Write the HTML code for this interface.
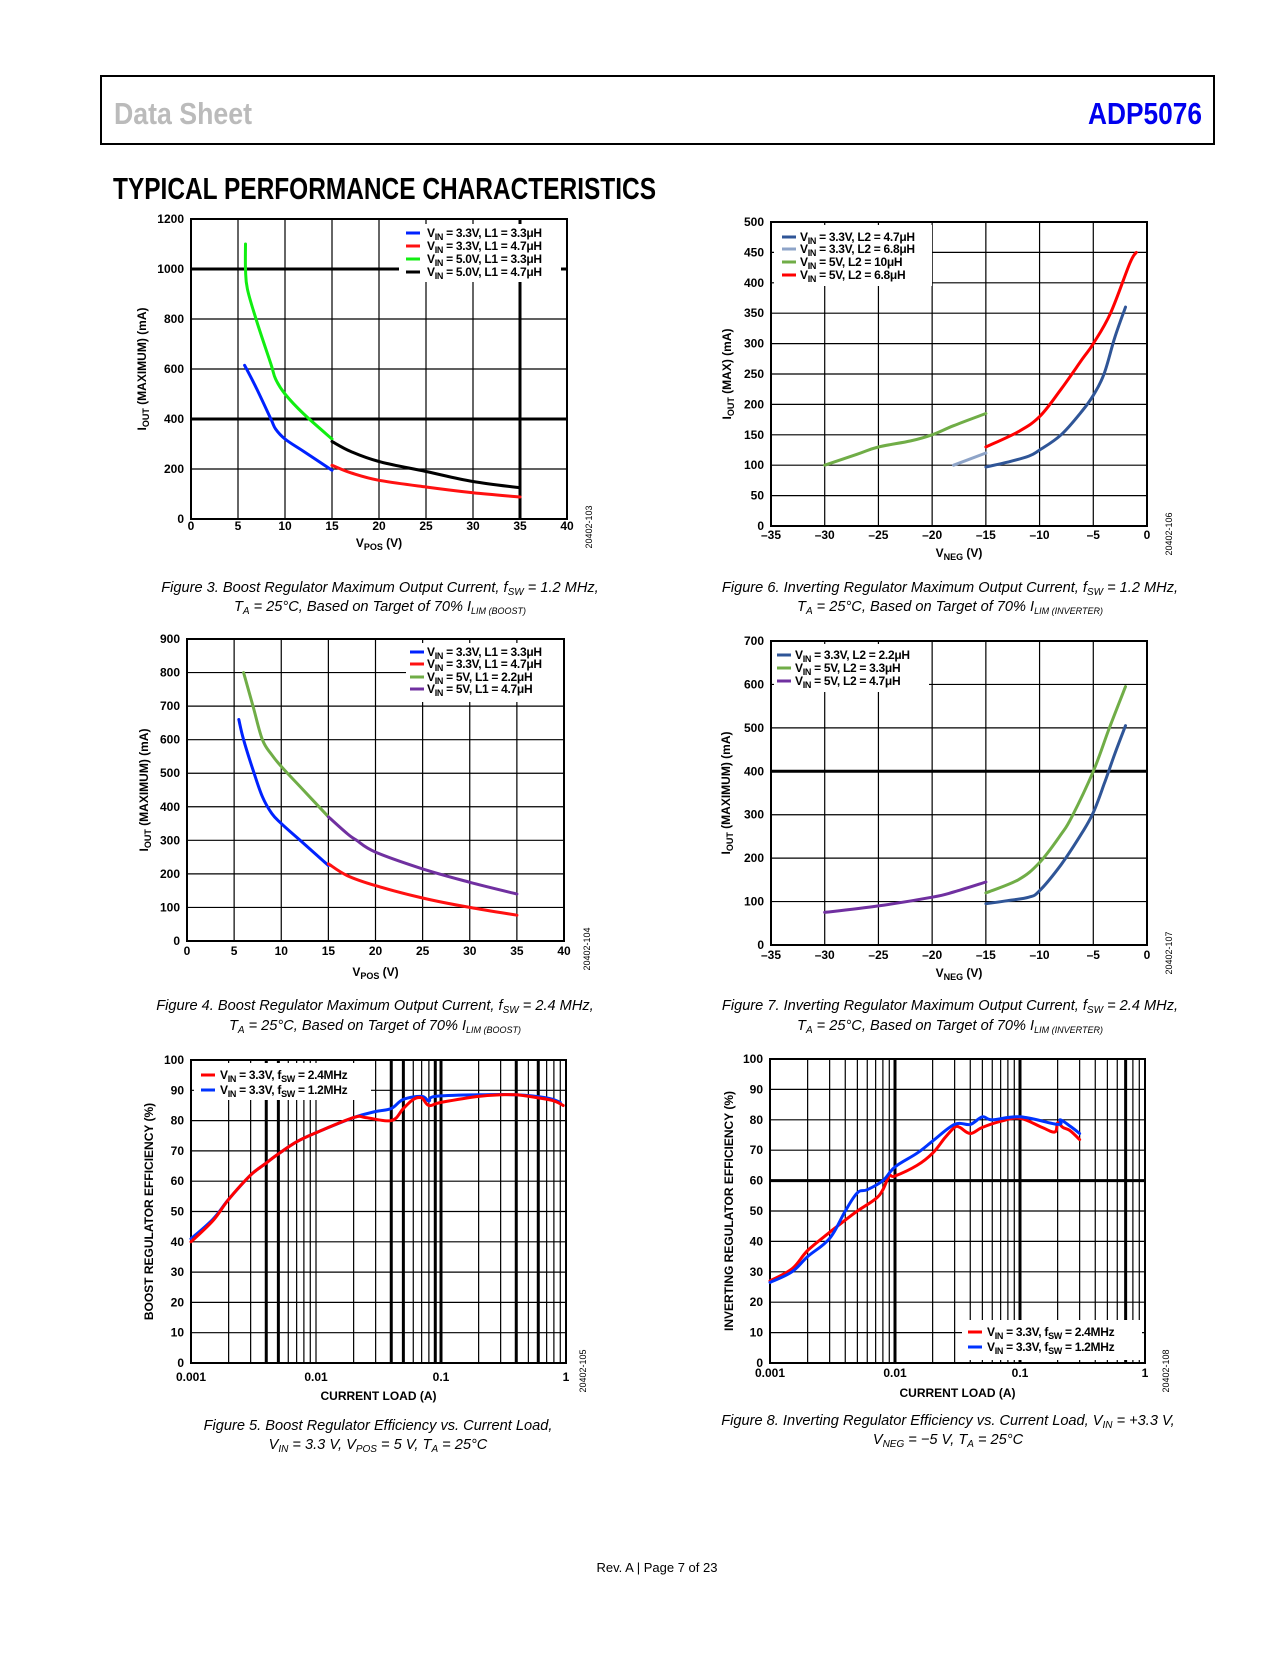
<!DOCTYPE html>
<html><head><meta charset="utf-8"><style>
body{margin:0;background:#fff}
svg text{font-family:"Liberation Sans",Arial,sans-serif}
.tk{font-size:12px;font-weight:bold}
.cap{font-size:14.6px;font-style:italic}
.lg{font-size:12px;font-weight:bold;letter-spacing:-0.3px}
</style></head><body>
<svg id="pg" width="1275" height="1650" viewBox="0 0 1275 1650" xmlns="http://www.w3.org/2000/svg">
<rect x="101" y="76" width="1113" height="68" fill="none" stroke="#000" stroke-width="2"/>
<text x="114" y="124" font-size="31" font-weight="bold" fill="#bbb" textLength="138" lengthAdjust="spacingAndGlyphs">Data Sheet</text>
<text x="1088" y="124" font-size="31" font-weight="bold" fill="#0000ee" textLength="114" lengthAdjust="spacingAndGlyphs">ADP5076</text>
<text x="113" y="199" font-size="31" font-weight="bold" fill="#000" textLength="543" lengthAdjust="spacingAndGlyphs">TYPICAL PERFORMANCE CHARACTERISTICS</text>

<text class="cap" x="380" y="592" text-anchor="middle">Figure 3. Boost Regulator Maximum Output Current, f<tspan font-size="10" dy="3">SW</tspan><tspan dy="-3"> = 1.2 MHz,</tspan></text>
<text class="cap" x="380" y="611" text-anchor="middle">T<tspan font-size="10" dy="3">A</tspan><tspan dy="-3"> = 25°C, Based on Target of 70% I</tspan><tspan font-size="9" dy="3">LIM (BOOST)</tspan></text>
<text class="cap" x="950" y="592" text-anchor="middle">Figure 6. Inverting Regulator Maximum Output Current, f<tspan font-size="10" dy="3">SW</tspan><tspan dy="-3"> = 1.2 MHz,</tspan></text>
<text class="cap" x="950" y="611" text-anchor="middle">T<tspan font-size="10" dy="3">A</tspan><tspan dy="-3"> = 25°C, Based on Target of 70% I</tspan><tspan font-size="9" dy="3">LIM (INVERTER)</tspan></text>
<text class="cap" x="375" y="1010" text-anchor="middle">Figure 4. Boost Regulator Maximum Output Current, f<tspan font-size="10" dy="3">SW</tspan><tspan dy="-3"> = 2.4 MHz,</tspan></text>
<text class="cap" x="375" y="1030" text-anchor="middle">T<tspan font-size="10" dy="3">A</tspan><tspan dy="-3"> = 25°C, Based on Target of 70% I</tspan><tspan font-size="9" dy="3">LIM (BOOST)</tspan></text>
<text class="cap" x="950" y="1010" text-anchor="middle">Figure 7. Inverting Regulator Maximum Output Current, f<tspan font-size="10" dy="3">SW</tspan><tspan dy="-3"> = 2.4 MHz,</tspan></text>
<text class="cap" x="950" y="1030" text-anchor="middle">T<tspan font-size="10" dy="3">A</tspan><tspan dy="-3"> = 25°C, Based on Target of 70% I</tspan><tspan font-size="9" dy="3">LIM (INVERTER)</tspan></text>
<text class="cap" x="378" y="1430" text-anchor="middle">Figure 5. Boost Regulator Efficiency vs. Current Load,</text>
<text class="cap" x="378" y="1449" text-anchor="middle">V<tspan font-size="10" dy="3">IN</tspan><tspan dy="-3"> = 3.3 V, V</tspan><tspan font-size="10" dy="3">POS</tspan><tspan dy="-3"> = 5 V, T</tspan><tspan font-size="10" dy="3">A</tspan><tspan dy="-3"> = 25°C</tspan></text>
<text class="cap" x="948" y="1425" text-anchor="middle">Figure 8. Inverting Regulator Efficiency vs. Current Load, V<tspan font-size="10" dy="3">IN</tspan><tspan dy="-3"> = +3.3 V,</tspan></text>
<text class="cap" x="948" y="1444" text-anchor="middle">V<tspan font-size="10" dy="3">NEG</tspan><tspan dy="-3"> = −5 V, T</tspan><tspan font-size="10" dy="3">A</tspan><tspan dy="-3"> = 25°C</tspan></text>
<text x="657" y="1572" font-size="13" text-anchor="middle">Rev. A | Page 7 of 23</text>
</svg>
<script>
// ---- Chart data ----
const c1BlueX=[5.7,7,8.5,9,10,12,15], c1BlueY=[615,520,400,360,320,270,195];
const c1GreenX=[5.8,5.8,6,7,8.5,9,10,12,15], c1GreenY=[1100,1000,920,790,620,560,500,420,320];
const c1BlackX=[15,17,20,25,30,35], c1BlackY=[310,270,230,190,150,125];
const c1RedX=[15,17,20,25,30,35], c1RedY=[215,185,155,128,105,88];
const c1XTicks=[0,5,10,15,20,25,30,35,40];
const c1YTicks=[0,200,400,600,800,1000,1200];

const c2GreenX=[-30,-27,-25,-22,-20,-18,-15], c2GreenY=[100,118,130,140,150,165,185];
const c2LightX=[-18,-15], c2LightY=[100,120];
const c2BlueX=[-15,-13,-11,-10,-8,-6,-5,-4,-3,-2], c2BlueY=[97,105,115,125,150,190,215,250,310,360];
const c2RedX=[-15,-12,-10,-8,-6,-5,-3.4,-1.6,-1], c2RedY=[130,155,180,225,275,300,350,432,450];
const c2XTicks=[-35,-30,-25,-20,-15,-10,-5,0];
const c2YTicks=[0,50,100,150,200,250,300,350,400,450,500];

const c4BlueX=[5.5,6,7,8,9,10,12,15], c4BlueY=[660,600,510,430,380,350,300,225];
const c4GreenX=[6,7,8,9,10,12,15], c4GreenY=[800,700,600,555,520,460,370];
const c4PurpleX=[15,17,18,20,25,30,35], c4PurpleY=[370,320,300,265,215,175,140];
const c4RedX=[15,17,20,25,30,35], c4RedY=[230,195,165,128,100,77];
const c4XTicks=[0,5,10,15,20,25,30,35,40];
const c4YTicks=[0,100,200,300,400,500,600,700,800,900];

const c5PurpleX=[-30,-25,-20,-18,-15], c5PurpleY=[75,90,110,122,145];
const c5GreenX=[-15,-12,-10,-8,-7,-5,-3.5,-2], c5GreenY=[120,150,190,255,295,400,500,595];
const c5BlueX=[-15,-13,-11,-10,-8,-6,-5,-4,-3,-2], c5BlueY=[95,102,110,125,185,260,305,370,440,505];
const c5XTicks=[-35,-30,-25,-20,-15,-10,-5,0];
const c5YTicks=[0,100,200,300,400,500,600,700];

const c3RedX=[0.001,0.0015,0.002,0.003,0.004,0.005,0.007,0.01,0.02,0.025,0.04,0.05,0.06,0.07,0.08,0.1,0.2,0.3,0.4,0.6,0.8,0.95];
const c3RedY=[40,47,54,62,66,69,73,76,81,81,80,84,87,87.5,85,86,88,88.5,88.5,87.5,86.5,85];
const c3BlueX=[0.001,0.0015,0.002,0.003,0.004,0.005,0.007,0.01,0.02,0.03,0.04,0.05,0.07,0.08,0.09,0.2,0.4,0.7,0.9];
const c3BlueY=[41,47.5,54,62,66,69,73,76,81,83,84,87,88,86.5,88,88.5,88.5,87.5,86];
const c3XTicks=[0.001,0.01,0.1,1], c3XLabels=["0.001","0.01","0.1","1"];
const c3YTicks=[0,10,20,30,40,50,60,70,80,90,100];

const c6RedX=[0.001,0.0015,0.002,0.003,0.004,0.005,0.007,0.008,0.009,0.01,0.015,0.02,0.025,0.03,0.033,0.04,0.05,0.07,0.1,0.15,0.19,0.2,0.22,0.25,0.3];
const c6RedY=[27,31,37,43,47,50,54,57,61.5,61.5,65,69,74,77.5,77.5,75.5,77.5,79.5,80.5,77.5,76,79,77.5,76.5,73.5];
const c6BlueX=[0.001,0.0015,0.002,0.003,0.004,0.005,0.006,0.008,0.01,0.015,0.02,0.03,0.04,0.05,0.06,0.1,0.2,0.21,0.25,0.3];
const c6BlueY=[26.5,30,35,41,50,56,57,60,64.5,69,73,78.5,78.5,81,80,81,78.5,80,78,75.5];
const c6XTicks=[0.001,0.01,0.1,1], c6XLabels=["0.001","0.01","0.1","1"];
const c6YTicks=[0,10,20,30,40,50,60,70,80,90,100];

const NS="http://www.w3.org/2000/svg";
const pg=document.getElementById('pg');
function mk(tag,attrs,parent){const e=document.createElementNS(NS,tag);for(const k in attrs)e.setAttribute(k,attrs[k]);(parent||pg).appendChild(e);return e;}
function minus(v){return v<0?'–'+(-v):''+v;}
function smooth(P){
  if(P.length<3)return 'M'+P.map(p=>p[0].toFixed(1)+','+p[1].toFixed(1)).join(' L');
  let d='M'+P[0][0].toFixed(1)+','+P[0][1].toFixed(1);
  for(let i=0;i<P.length-1;i++){
    const p0=P[i-1]||P[i],p1=P[i],p2=P[i+1],p3=P[i+2]||p2;
    const t=0.18;
    const c1=[p1[0]+(p2[0]-p0[0])*t,p1[1]+(p2[1]-p0[1])*t];
    const c2=[p2[0]-(p3[0]-p1[0])*t,p2[1]-(p3[1]-p1[1])*t];
    d+=` C${c1[0].toFixed(1)},${c1[1].toFixed(1)} ${c2[0].toFixed(1)},${c2[1].toFixed(1)} ${p2[0].toFixed(1)},${p2[1].toFixed(1)}`;
  }
  return d;
}

function chart(c){
  const g=mk('g',{});
  
  
  const sx=c.log?(v=>c.x+(Math.log10(v)-Math.log10(c.xmin))/(Math.log10(c.xmax)-Math.log10(c.xmin))*c.w):(v=>c.x+(v-c.xmin)/(c.xmax-c.xmin)*c.w);
  const sy=v=>c.y+c.h-(v-c.ymin)/(c.ymax-c.ymin)*c.h;
  let vlines=[];
  if(c.log){for(let d=Math.log10(c.xmin);d<Math.log10(c.xmax);d++)for(let k=1;k<10;k++)vlines.push(k*Math.pow(10,d));}
  else vlines=c.xticks;
  vlines.forEach(v=>{const bold=(c.boldX||[]).some(b=>Math.abs(b-v)<v*1e-6+1e-9);
    const l=mk('line',{x1:sx(v),x2:sx(v),y1:c.y,y2:c.y+c.h,stroke:'#000','stroke-width':bold?3:1.2},g);
    
    });
  c.yticks.forEach(v=>{const bold=(c.boldY||[]).includes(v);
    const l=mk('line',{x1:c.x,x2:c.x+c.w,y1:sy(v),y2:sy(v),stroke:'#000','stroke-width':bold?3:1.2},g);
    
    
    const t=mk('text',{x:c.x-7,y:sy(v)+4,'text-anchor':'end',class:'tk'},g);
    
    
    t.textContent=v;});
  const fr=mk('rect',{x:c.x,y:c.y,width:c.w,height:c.h,fill:'none',stroke:'#000','stroke-width':2},g);
  
  
  c.xticks.forEach((v,i)=>{
    const t=mk('text',{x:sx(v),y:c.y+c.h+c.xlOff,'text-anchor':'middle',class:'tk'},g);
    
    
    t.textContent=c.xlabels?c.xlabels[i]:minus(v);});
  const lb=mk('rect',{x:c.leg.x,y:c.leg.y,width:c.leg.w,height:c.leg.h,fill:'#fff'},g);
  
  
  c.series.forEach((s,i)=>{
    const P=s.xs.map((v,j)=>[sx(v),sy(s.ys[j])]);
    const p=mk('path',{d:smooth(P),fill:'none',stroke:s.color,'stroke-width':3,'stroke-linejoin':'round','stroke-linecap':'round'},g);
    
    
  });
  c.leg.items.forEach((it,i)=>{
    const yy=c.leg.ry[i];
    const l=mk('line',{x1:c.leg.lx,x2:c.leg.lx+14,y1:yy,y2:yy,stroke:it.color,'stroke-width':3},g);
    
    
    const t=mk('text',{x:c.leg.tx,y:yy+4,class:'lg'},g);
    
    
    t.innerHTML=it.html;
  });
  const yt=mk('text',{x:0,y:0,transform:`translate(${c.ytx},${c.y+c.h/2}) rotate(-90)`,'text-anchor':'middle',class:'tk'},g);
  
  
  yt.innerHTML=c.ytitle;
  const xt=mk('text',{x:c.x+c.w/2,y:c.y+c.h+c.xtOff,'text-anchor':'middle',class:'tk'},g);
  
  
  xt.innerHTML=c.xtitle;
  const id=mk('text',{x:0,y:0,transform:`translate(${c.idx},${c.y+c.h+8}) rotate(-90)`,'text-anchor':'middle','font-size':9},g);
  
  
  id.textContent=c.id;
}
const SUB=s=>`<tspan font-size="9" dy="3">${s}</tspan><tspan dy="-3">`;
const V=(a,b)=>`V${SUB('IN')} = ${a}, ${b}</tspan>`;
const F=(a,b)=>`V${SUB('IN')} = ${a}, f</tspan>${SUB('SW')} = ${b}</tspan>`;
const IOUT=t=>`I${SUB('OUT')} ${t}</tspan>`;

chart({name:'figure3-chart',x:191,y:219,w:376,h:300,xmin:0,xmax:40,ymin:0,ymax:1200,xticks:c1XTicks,yticks:c1YTicks,boldY:[400,1000],boldX:[35],
  xlOff:11,xtOff:28,ytx:146,idx:592,id:'20402-103',ytitle:IOUT('(MAXIMUM) (mA)'),xtitle:`V${SUB('POS')} (V)</tspan>`,
  series:[{id:'series-vin33-l1-33uh',xs:c1BlueX,ys:c1BlueY,color:'#0022ff'},{id:'series-vin50-l1-33uh',xs:c1GreenX,ys:c1GreenY,color:'#11ee11'},
          {id:'series-vin50-l1-47uh',xs:c1BlackX,ys:c1BlackY,color:'#000'},{id:'series-vin33-l1-47uh',xs:c1RedX,ys:c1RedY,color:'#ff1111'}],
  leg:{x:399,y:224,w:162,h:58,lx:406,tx:427,ry:[233,246,259,272],items:[{color:'#0022ff',html:V('3.3V','L1 = 3.3μH')},{color:'#ff1111',html:V('3.3V','L1 = 4.7μH')},{color:'#11ee11',html:V('5.0V','L1 = 3.3μH')},{color:'#000',html:V('5.0V','L1 = 4.7μH')}]}});

chart({name:'figure6-chart',x:771,y:222,w:376,h:304,xmin:-35,xmax:0,ymin:0,ymax:500,xticks:c2XTicks,yticks:c2YTicks,boldX:[-20],
  xlOff:13,xtOff:31,ytx:731,idx:1172,id:'20402-106',ytitle:IOUT('(MAX) (mA)'),xtitle:`V${SUB('NEG')} (V)</tspan>`,
  series:[{id:'series-vin5-l2-10uh',xs:c2GreenX,ys:c2GreenY,color:'#70ad47'},{id:'series-vin33-l2-68uh',xs:c2LightX,ys:c2LightY,color:'#8ea4c8'},
          {id:'series-vin33-l2-47uh',xs:c2BlueX,ys:c2BlueY,color:'#2f5597'},{id:'series-vin5-l2-68uh',xs:c2RedX,ys:c2RedY,color:'#ff0000'}],
  leg:{x:774,y:225,w:158,h:61,lx:782,tx:800,ry:[237,249,262,275],items:[{color:'#2f5597',html:V('3.3V','L2 = 4.7μH')},{color:'#8ea4c8',html:V('3.3V','L2 = 6.8μH')},{color:'#70ad47',html:V('5V','L2 = 10μH')},{color:'#ff0000',html:V('5V','L2 = 6.8μH')}]}});

chart({name:'figure4-chart',x:187,y:639,w:377,h:302,xmin:0,xmax:40,ymin:0,ymax:900,xticks:c4XTicks,yticks:c4YTicks,
  xlOff:14,xtOff:35,ytx:148,idx:590,id:'20402-104',ytitle:IOUT('(MAXIMUM) (mA)'),xtitle:`V${SUB('POS')} (V)</tspan>`,
  series:[{id:'series-vin33-l1-33uh',xs:c4BlueX,ys:c4BlueY,color:'#0022ff'},{id:'series-vin5-l1-22uh',xs:c4GreenX,ys:c4GreenY,color:'#70ad47'},
          {id:'series-vin5-l1-47uh',xs:c4PurpleX,ys:c4PurpleY,color:'#7030a0'},{id:'series-vin33-l1-47uh',xs:c4RedX,ys:c4RedY,color:'#ff1111'}],
  leg:{x:406,y:643,w:157,h:59,lx:410,tx:427,ry:[652,664,677,689],items:[{color:'#0022ff',html:V('3.3V','L1 = 3.3μH')},{color:'#ff1111',html:V('3.3V','L1 = 4.7μH')},{color:'#70ad47',html:V('5V','L1 = 2.2μH')},{color:'#7030a0',html:V('5V','L1 = 4.7μH')}]}});

chart({name:'figure7-chart',x:771,y:641,w:376,h:304,xmin:-35,xmax:0,ymin:0,ymax:700,xticks:c5XTicks,yticks:c5YTicks,boldY:[400],
  xlOff:14,xtOff:32,ytx:730,idx:1172,id:'20402-107',ytitle:IOUT('(MAXIMUM) (mA)'),xtitle:`V${SUB('NEG')} (V)</tspan>`,
  series:[{id:'series-vin5-l2-47uh',xs:c5PurpleX,ys:c5PurpleY,color:'#7030a0'},{id:'series-vin5-l2-33uh',xs:c5GreenX,ys:c5GreenY,color:'#70ad47'},
          {id:'series-vin33-l2-22uh',xs:c5BlueX,ys:c5BlueY,color:'#2f5597'}],
  leg:{x:774,y:644,w:155,h:48,lx:777,tx:795,ry:[655,668,681],items:[{color:'#2f5597',html:V('3.3V','L2 = 2.2μH')},{color:'#70ad47',html:V('5V','L2 = 3.3μH')},{color:'#7030a0',html:V('5V','L2 = 4.7μH')}]}});

chart({name:'figure5-chart',x:191,y:1060,w:375,h:303,log:true,xmin:0.001,xmax:1,ymin:0,ymax:100,xticks:c3XTicks,xlabels:c3XLabels,yticks:c3YTicks,boldX:[0.004,0.005,0.04,0.05,0.09,0.1,0.4,0.6],
  xlOff:18,xtOff:37,ytx:153,idx:586,id:'20402-105',ytitle:'BOOST REGULATOR EFFICIENCY (%)',xtitle:'CURRENT LOAD (A)',
  series:[{id:'series-fsw-1p2mhz',xs:c3BlueX,ys:c3BlueY,color:'#0033ff'},{id:'series-fsw-2p4mhz',xs:c3RedX,ys:c3RedY,color:'#ff0000'}],
  leg:{x:194,y:1063,w:177,h:37,lx:201,tx:220,ry:[1075,1090],items:[{color:'#ff0000',html:F('3.3V','2.4MHz')},{color:'#0033ff',html:F('3.3V','1.2MHz')}]}});

chart({name:'figure8-chart',x:770,y:1059,w:375,h:304,log:true,xmin:0.001,xmax:1,ymin:0,ymax:100,xticks:c6XTicks,xlabels:c6XLabels,yticks:c6YTicks,boldX:[0.01,0.1,0.7],boldY:[60],
  xlOff:14,xtOff:34,ytx:733,idx:1169,id:'20402-108',ytitle:'INVERTING REGULATOR EFFICIENCY (%)',xtitle:'CURRENT LOAD (A)',
  series:[{id:'series-fsw-2p4mhz',xs:c6RedX,ys:c6RedY,color:'#ff0000'},{id:'series-fsw-1p2mhz',xs:c6BlueX,ys:c6BlueY,color:'#0033ff'}],
  leg:{x:962,y:1320,w:180,h:40,lx:968,tx:987,ry:[1332,1347],items:[{color:'#ff0000',html:F('3.3V','2.4MHz')},{color:'#0033ff',html:F('3.3V','1.2MHz')}]}});
</script>
</body></html>
